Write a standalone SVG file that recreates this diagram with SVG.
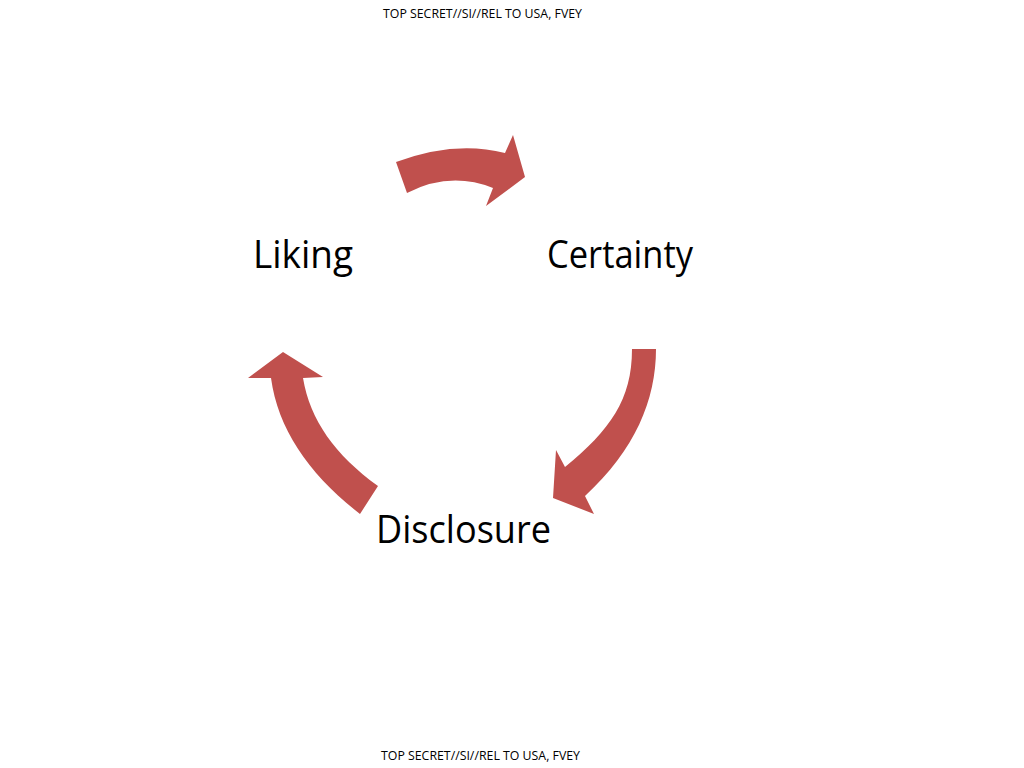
<svg xmlns="http://www.w3.org/2000/svg" width="1024" height="768" viewBox="0 0 1024 768">
<style>
.arrow{fill:#c0504d;stroke:none}
.lbl{font-family:"Open Sans","Noto Sans","Liberation Sans",sans-serif;font-size:38px;fill:#000}
.cls{font-family:"Open Sans","Noto Sans","Liberation Sans",sans-serif;font-size:12px;fill:#000}
</style>
<rect width="1024" height="768" fill="#fff"/>
<text class="cls" x="383" y="18" textLength="199" lengthAdjust="spacingAndGlyphs">TOP SECRET//SI//REL TO USA, FVEY</text>
<text class="cls" x="381" y="760" textLength="199" lengthAdjust="spacingAndGlyphs">TOP SECRET//SI//REL TO USA, FVEY</text>
<g id="connectors">
<path class="arrow" d="M396,162 Q455,140 505,153 L513,135 L525,177 L486,206 L493,188 Q450,171 407,193 Z"/>
<path class="arrow" d="M632,349 L656,349 C656,400 635,450 585,496 L594,514 L553,498 L556,450 L565,467 C610,430 632,400 632,349 Z"/>
<path class="arrow" d="M360,514 C310,475 278,430 271,378 L248,378 L283,352 L323,377 L303,378 C310,420 335,455 378,486 Z"/>
</g>
<g id="liking"><text class="lbl" x="253" y="268" textLength="100" lengthAdjust="spacingAndGlyphs">Liking</text></g>
<g id="certainty"><text class="lbl" x="547" y="268" textLength="146" lengthAdjust="spacingAndGlyphs">Certainty</text></g>
<g id="disclosure"><text class="lbl" x="376" y="543" textLength="175" lengthAdjust="spacingAndGlyphs">Disclosure</text></g>
</svg>
